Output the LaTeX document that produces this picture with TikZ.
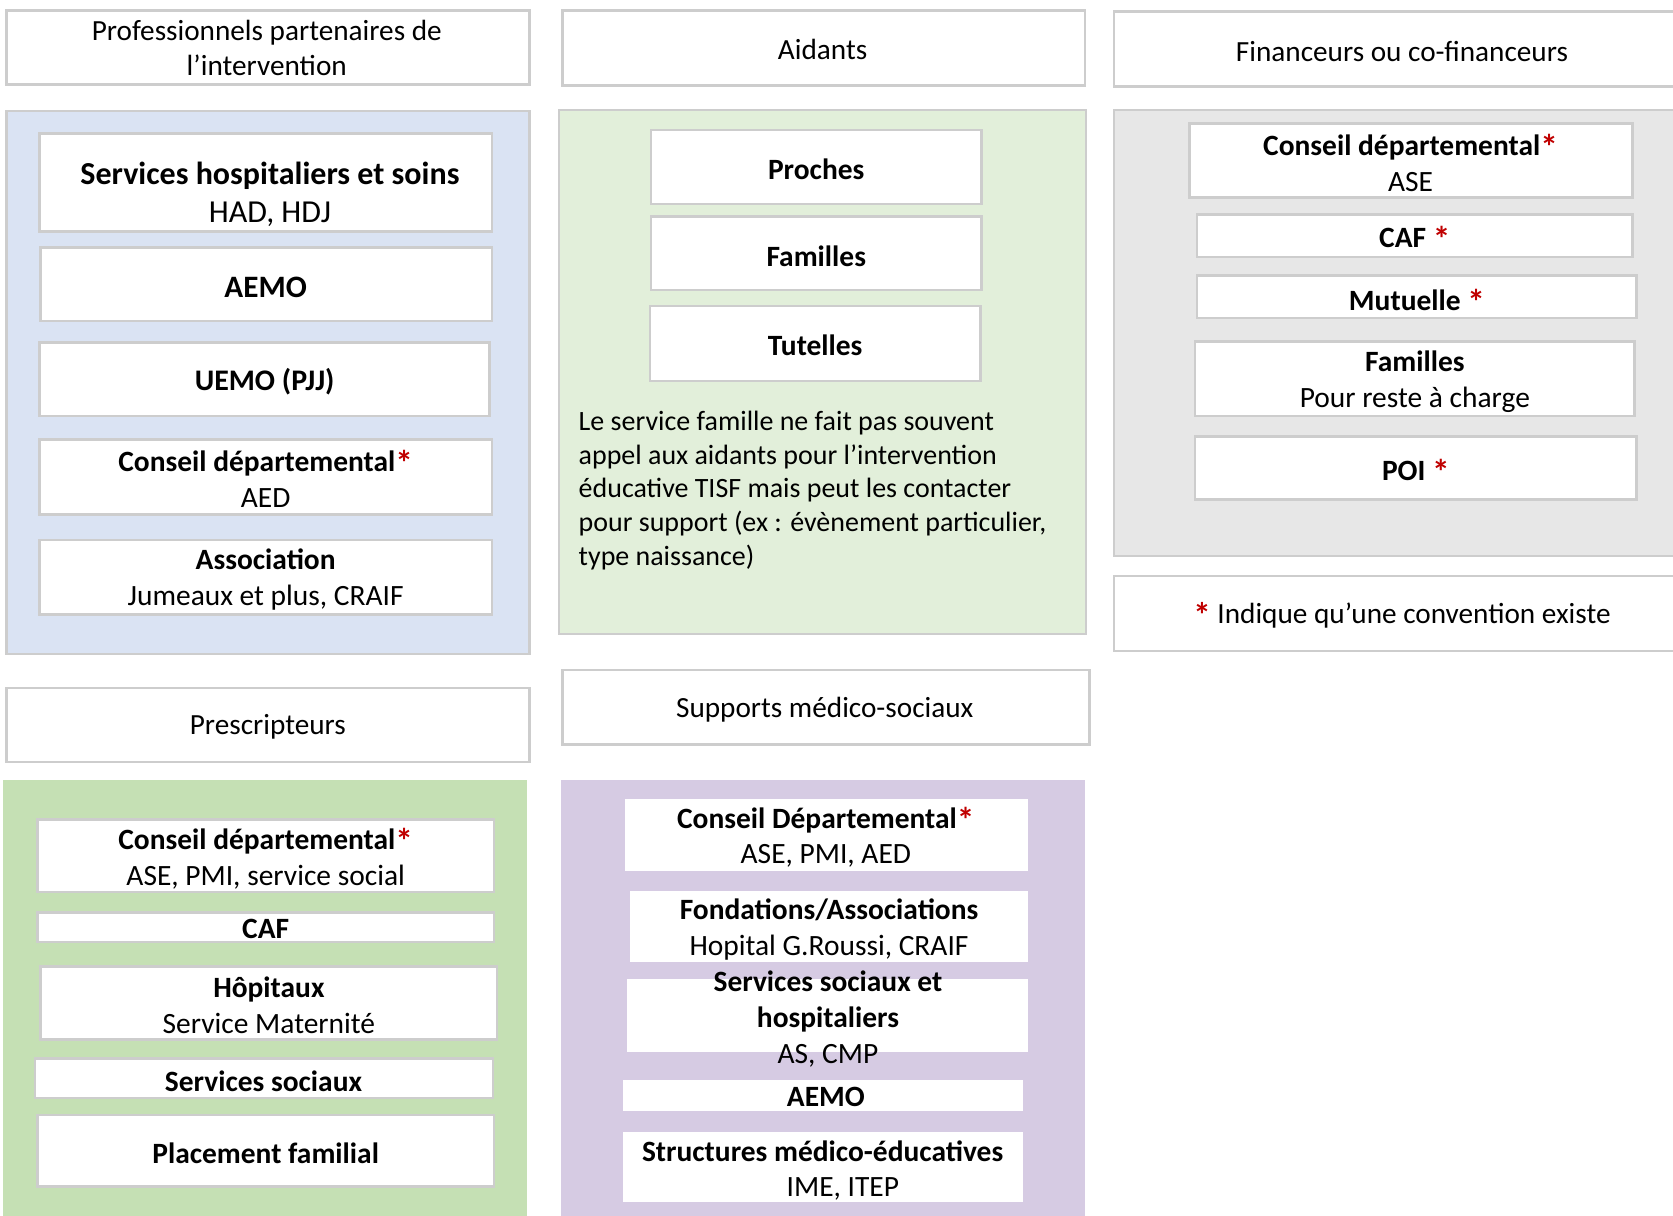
\documentclass[tikz,border=0pt]{standalone}
\usepackage{fontspec}
\usepackage{graphicx}
\setmainfont{Carlito}
\usetikzlibrary{fit}
\definecolor{bord}{RGB}{205,205,205}
\definecolor{pblue}{RGB}{218,227,243}
\definecolor{pgreen}{RGB}{226,239,218}
\definecolor{pgray}{RGB}{231,231,231}
\definecolor{pgreentwo}{RGB}{197,224,180}
\definecolor{ppurple}{RGB}{214,203,227}
\definecolor{starred}{RGB}{192,0,0}
\newcommand\rst{\smash{\raisebox{-0.3ex}{\scalebox{1.2}{\textbf{\textcolor{starred}{*}}}}}}
\newcommand\bx[6][wbox]{\node[#1, fit={(#3,#4) (#5,#6)}] (#2) {};}
\begin{document}
\begin{tikzpicture}[x=0.5pt,y=-0.5pt,
  panel/.style={draw=bord, line width=1.2pt, inner sep=0pt},
  bpanel/.style={inner sep=0pt},
  wbox/.style={draw=bord, fill=white, line width=1.2pt, inner sep=0pt},
  nbox/.style={fill=white, inner sep=0pt},
  hdr/.style={font=\fontsize{13.7}{16.5}\selectfont, align=center, inner sep=0pt},
  lbl/.style={font=\fontsize{13.8}{16.8}\selectfont, align=center, inner sep=0pt},
  para/.style={font=\fontsize{13.1}{15.75}\selectfont, align=left, anchor=north west, inner sep=0pt}]
\useasboundingbox (0,0) rectangle (1568,1139);
\clip (0,0) rectangle (1568,1139);
% ---------- headers
\bx{h1}{6}{10}{496}{79}
\node[hdr] (h1t) at (250,45) {Professionnels partenaires de\\l’intervention};
\bx{h2}{527}{10}{1017}{80}
\node[hdr] (h2t) at (771,46) {Aidants};
\bx{h3}{1044}{11}{1582}{81}
\node[hdr] (h3t) at (1314,48) {Financeurs ou co-financeurs};
\bx{h4}{6}{645}{496}{714}
\node[hdr] (h4t) at (251,681) {Prescripteurs};
\bx{h5}{527}{628}{1021}{698}
\node[hdr] (h5t) at (773,665) {Supports médico-sociaux};
\bx{h6}{1044}{540}{1582}{610}
\node[hdr] (h6t) at (1314,577) {\rst\ Indique qu’une convention existe};
% ---------- panels
\bx[panel,fill=pblue]{p1}{6}{104}{496}{613}
\bx[panel,fill=pgreen]{p2}{524}{103}{1018}{594}
\bx[panel,fill=pgray]{p3}{1044}{103}{1582}{521}
\bx[bpanel,fill=pgreentwo]{p4}{3}{731}{494}{1160}
\bx[bpanel,fill=ppurple]{p5}{526}{731}{1017}{1160}
% ---------- column 1
\bx{a1}{37}{125}{461}{217}
\node[lbl,font=\fontsize{15}{18}\selectfont] (a1t) at (253,182) {\textbf{Services hospitaliers et soins}\\HAD, HDJ};
\bx{a2}{38}{232}{461}{301}
\node[lbl] (a2t) at (249,269) {\textbf{\fontsize{14.6}{17}\selectfont AEMO}};
\bx{a3}{37}{321}{459}{390}
\node[lbl] (a3t) at (248,358) {\textbf{\fontsize{14}{17}\selectfont UEMO (PJJ)}};
\bx{a4}{37}{412}{461}{482}
\node[lbl] (a4t) at (249,449) {\textbf{Conseil départemental\rst}\\AED};
\bx{a5}{37}{506}{461}{576}
\node[lbl] (a5t) at (249,543) {\textbf{Association}\\Jumeaux et plus, CRAIF};
% ---------- column 2
\bx{b1}{610}{122}{920}{191}
\node[lbl] (b1t) at (765,159) {\textbf{Proches}};
\bx{b2}{610}{203}{920}{272}
\node[lbl] (b2t) at (765,240) {\textbf{Familles}};
\bx{b3}{609}{287}{919}{357}
\node[lbl] (b3t) at (764,324) {\textbf{Tutelles}};
\node[para] (b4t) at (542,385) {Le service famille ne fait pas souvent\\appel aux aidants pour l’intervention\\éducative TISF mais peut les contacter\\pour support (ex : évènement particulier,\\type naissance)};
% ---------- column 3
\bx{c1}{1115}{116}{1530}{185}
\node[lbl] (c1t) at (1322,153) {\textbf{Conseil départemental\rst}\\ASE};
\bx{c2}{1122}{201}{1530}{241}
\node[lbl] (c2t) at (1326,223) {\textbf{CAF \rst}};
\bx{c3}{1122}{258}{1534}{298}
\node[lbl] (c3t) at (1328,281) {\textbf{Mutuelle \rst}};
\bx{c4}{1120}{320}{1532}{390}
\node[lbl] (c4t) at (1326,358) {\textbf{Familles}\\Pour reste à charge};
\bx{c5}{1120}{409}{1534}{468}
\node[lbl] (c5t) at (1327,441) {\textbf{POI \rst}};
% ---------- prescripteurs
\bx{d1}{35}{768}{463}{836}
\node[lbl] (d1t) at (249,805) {\textbf{Conseil départemental\rst}\\ASE, PMI, service social};
\bx{d2}{35}{855}{463}{883}
\node[lbl] (d2t) at (249,871) {\textbf{CAF}};
\bx{d3}{38}{906}{466}{974}
\node[lbl] (d3t) at (252,942) {\textbf{Hôpitaux}\\Service Maternité};
\bx{d4}{33}{992}{462}{1029}
\node[lbl] (d4t) at (247,1013) {\textbf{Services sociaux}};
\bx{d5}{35}{1045}{463}{1112}
\node[lbl] (d5t) at (249,1081) {\textbf{Placement familial}};
% ---------- supports medico-sociaux
\bx[nbox]{e1}{586}{749}{963}{816}
\node[lbl] (e1t) at (774,785) {\textbf{Conseil Départemental\rst}\\ASE, PMI, AED};
\bx[nbox]{e2}{590}{835}{963}{902}
\node[lbl] (e2t) at (777,871) {\textbf{Fondations/Associations}\\Hopital G.Roussi, CRAIF};
\bx[nbox]{e3}{588}{918}{963}{986}
\node[lbl] (e3t) at (776,955) {\textbf{Services sociaux et}\\\textbf{hospitaliers}\\AS, CMP};
\bx[nbox]{e4}{584}{1012}{959}{1041}
\node[lbl] (e4t) at (774,1028) {\textbf{AEMO}};
\bx[nbox]{e5}{584}{1061}{959}{1127}
\node[lbl] (e5t) at (771,1097) {\textbf{Structures médico-éducatives}\\\hspace*{19pt}IME, ITEP};
\end{tikzpicture}
\end{document}
